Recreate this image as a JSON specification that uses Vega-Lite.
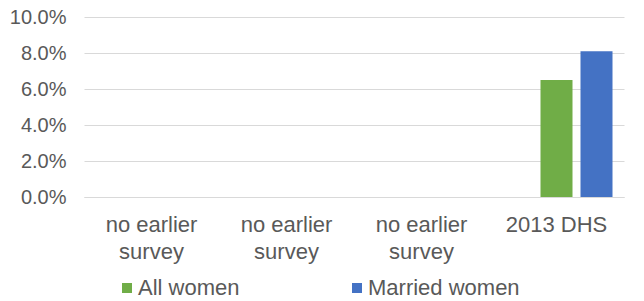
{
  "$schema": "https://vega.github.io/schema/vega-lite/v6.json",
  "width": 540,
  "height": 180,
  "autosize": {"type": "none"},
  "padding": {"left": 84, "top": 17, "right": 20, "bottom": 104},
  "background": "white",
  "data": {
    "values": [
      {"survey": "s1", "group": "All women", "value": null},
      {"survey": "s1", "group": "Married women", "value": null},
      {"survey": "s2", "group": "All women", "value": null},
      {"survey": "s2", "group": "Married women", "value": null},
      {"survey": "s3", "group": "All women", "value": null},
      {"survey": "s3", "group": "Married women", "value": null},
      {"survey": "2013 DHS", "group": "All women", "value": 0.065},
      {"survey": "2013 DHS", "group": "Married women", "value": 0.081}
    ]
  },
  "mark": {"type": "bar"},
  "encoding": {
    "x": {
      "field": "survey",
      "type": "nominal",
      "sort": null,
      "scale": {"domain": ["s1", "s2", "s3", "2013 DHS"], "paddingInner": 0, "paddingOuter": 0},
      "axis": {
        "title": null,
        "labelAngle": 0,
        "ticks": false,
        "domain": true,
        "domainColor": "#D9D9D9",
        "domainWidth": 1,
        "labelFont": "Liberation Sans",
        "labelFontSize": 22,
        "labelColor": "#595959",
        "labelPadding": 17,
        "labelLineHeight": 27,
        "labelBaseline": "top",
        "labelExpr": "datum.value == '2013 DHS' ? '2013 DHS' : ['no earlier', 'survey']"
      }
    },
    "xOffset": {
      "field": "group",
      "type": "nominal",
      "scale": {"domain": ["_pad", "All women", "Married women"], "paddingInner": 0.2, "paddingOuter": 0.2875}
    },
    "y": {
      "field": "value",
      "type": "quantitative",
      "scale": {"domain": [0, 0.1], "nice": false},
      "axis": {
        "title": null,
        "format": ".1%",
        "values": [0, 0.02, 0.04, 0.06, 0.08, 0.1],
        "ticks": false,
        "domain": false,
        "grid": true,
        "gridColor": "#D9D9D9",
        "gridWidth": 1,
        "labelFont": "Liberation Sans",
        "labelFontSize": 20,
        "labelColor": "#595959",
        "labelPadding": 18
      }
    },
    "color": {
      "field": "group",
      "type": "nominal",
      "scale": {"domain": ["All women", "Married women"], "range": ["#70AD47", "#4472C4"]},
      "legend": {
        "title": null,
        "orient": "none",
        "direction": "horizontal",
        "legendX": 32,
        "legendY": 260,
        "symbolType": "square",
        "symbolSize": 100,
        "symbolStrokeWidth": 0,
        "symbolOffset": 0,
        "labelOffset": 0,
        "columnPadding": 106,
        "labelFont": "Liberation Sans",
        "labelFontSize": 22,
        "labelColor": "#595959",
        "padding": 0
      }
    }
  },
  "config": {"view": {"stroke": null}}
}
